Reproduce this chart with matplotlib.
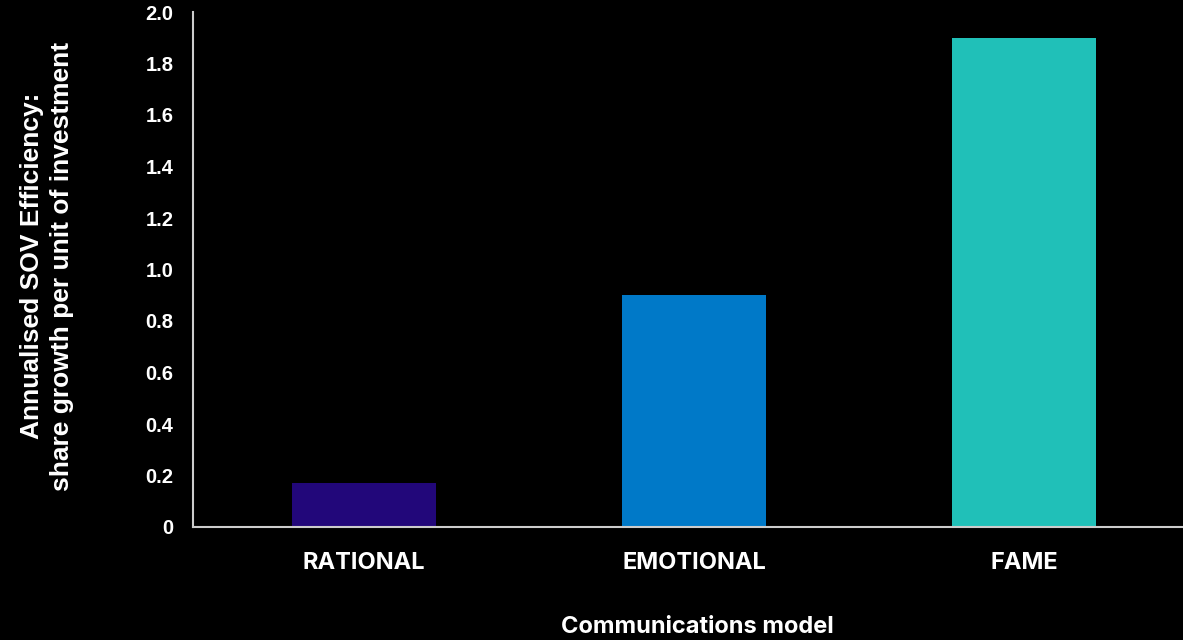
import matplotlib
matplotlib.use("Agg")
import matplotlib.pyplot as plt
from matplotlib.ticker import FuncFormatter

# data
models = ["RATIONAL", "EMOTIONAL", "FAME"]
efficiency = [0.17, 0.90, 1.90]
colors = ["#22077a", "#0079c8", "#20c0b8"]
yticks = [0, 0.2, 0.4, 0.6, 0.8, 1.0, 1.2, 1.4, 1.6, 1.8, 2.0]

fig = plt.figure(figsize=(11.83, 6.40), dpi=100, facecolor="black")
ax = fig.add_axes([193 / 1183, 113 / 640, 990 / 1183, 515 / 640], facecolor="black")

ax.bar(range(len(models)), efficiency, width=0.436, color=colors, zorder=2)

ax.set_xlim(-0.518, 2.482)
ax.set_ylim(0, 2.0)
ax.set_yticks(yticks)
ax.yaxis.set_major_formatter(FuncFormatter(lambda v, p: "0" if v == 0 else f"{v:.1f}"))
ax.set_xticks(range(len(models)))
ax.set_xticklabels(models)

for s in ["top", "right"]:
    ax.spines[s].set_visible(False)
for s in ["left", "bottom"]:
    ax.spines[s].set_color("#cccccc")
    ax.spines[s].set_linewidth(1.5)
    ax.spines[s].set_zorder(3)

ax.tick_params(axis="y", length=0, pad=14, colors="white")
ax.tick_params(axis="x", length=0, pad=18, colors="white")
for t in ax.get_yticklabels():
    t.set_fontfamily("Liberation Sans")
    t.set_fontweight("bold")
    t.set_fontsize(14.5)
for t in ax.get_xticklabels():
    t.set_fontfamily("Inter")
    t.set_fontweight("bold")
    t.set_fontsize(17)

fig.text(47 / 1183, 1 - 266 / 640,
         "Annualised SOV Efficiency:\nshare growth per unit of investment",
         rotation=90, ha="center", va="center", color="white",
         fontfamily="Liberation Sans", fontweight="bold", fontsize=19,
         linespacing=1.3)
fig.text(697 / 1183, 13 / 640, "Communications model", ha="center", va="center",
         color="white", fontfamily="Inter", fontweight="bold", fontsize=17)

fig.savefig("out.png", dpi=100, facecolor="black")
